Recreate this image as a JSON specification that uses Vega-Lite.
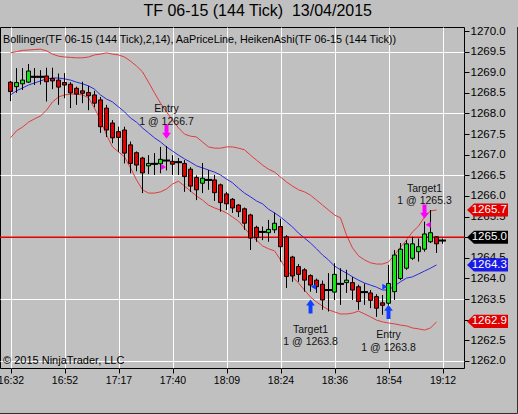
{
 "$schema": "https://vega.github.io/schema/vega-lite/v6.json",
 "width": 464, "height": 341,
 "autosize": {"type": "none"},
 "padding": {"left": 0, "top": 27, "right": 54, "bottom": 46},
 "background": "#c0c0c0",
 "config": {
  "font": "Liberation Sans",
  "view": {"stroke": "#000000", "strokeWidth": 1, "fill": "#c0c0c0"},
  "axisX": {"domain": false, "tickColor": "#000000", "tickSize": 5, "labelFontSize": 10.5, "labelColor": "#000000", "labelPadding": 2, "labelFlush": false, "labelOverlap": false, "grid": true, "gridColor": "#ffffff", "gridWidth": 1},
  "axisY": {"domain": false, "tickColor": "#000000", "tickSize": 5, "labelFontSize": 11.5, "labelColor": "#000000", "labelPadding": 1, "labelFlush": false, "labelOverlap": false, "grid": true, "gridColor": "#ffffff", "gridWidth": 1}
 },
 "title": {"text": "TF 06-15 (144 Tick) \u00a013/04/2015", "fontSize": 16, "fontWeight": "normal", "color": "#000000", "anchor": "middle", "frame": "bounds", "offset": 6},
 "datasets": {
  "bars": [
   {"i":0,"o":1268.76,"h":1268.79,"l":1268.30,"c":1268.53,"u":1269.47,"m":1268.45,"d":1267.41},
   {"i":1,"o":1268.65,"h":1269.10,"l":1268.50,"c":1268.75,"u":1269.50,"m":1268.55,"d":1267.58},
   {"i":2,"o":1268.72,"h":1269.10,"l":1268.57,"c":1268.81,"u":1269.53,"m":1268.62,"d":1267.67},
   {"i":3,"o":1268.76,"h":1269.20,"l":1268.74,"c":1269.03,"u":1269.54,"m":1268.69,"d":1267.79},
   {"i":4,"o":1268.89,"h":1269.10,"l":1268.69,"c":1268.89,"u":1269.55,"m":1268.74,"d":1267.87},
   {"i":5,"o":1268.89,"h":1269.05,"l":1268.70,"c":1268.89,"u":1269.56,"m":1268.79,"d":1267.94},
   {"i":6,"o":1268.91,"h":1269.11,"l":1268.29,"c":1268.77,"u":1269.52,"m":1268.84,"d":1268.08},
   {"i":7,"o":1268.85,"h":1269.11,"l":1268.59,"c":1268.79,"u":1269.44,"m":1268.86,"d":1268.28},
   {"i":8,"o":1268.81,"h":1268.97,"l":1268.21,"c":1268.64,"u":1269.39,"m":1268.86,"d":1268.40},
   {"i":9,"o":1268.75,"h":1268.98,"l":1268.37,"c":1268.69,"u":1269.37,"m":1268.84,"d":1268.45},
   {"i":10,"o":1268.71,"h":1268.76,"l":1268.13,"c":1268.50,"u":1269.36,"m":1268.81,"d":1268.47},
   {"i":11,"o":1268.61,"h":1268.65,"l":1268.21,"c":1268.47,"u":1269.35,"m":1268.76,"d":1268.47},
   {"i":12,"o":1268.55,"h":1268.77,"l":1268.25,"c":1268.49,"u":1269.35,"m":1268.72,"d":1268.45},
   {"i":13,"o":1268.51,"h":1268.67,"l":1268.08,"c":1268.43,"u":1269.37,"m":1268.67,"d":1268.38},
   {"i":14,"o":1268.45,"h":1268.55,"l":1268.15,"c":1268.25,"u":1269.42,"m":1268.59,"d":1268.13},
   {"i":15,"o":1268.33,"h":1268.40,"l":1267.53,"c":1267.68,"u":1269.44,"m":1268.45,"d":1267.84},
   {"i":16,"o":1268.13,"h":1268.21,"l":1267.43,"c":1267.60,"u":1269.47,"m":1268.35,"d":1267.48},
   {"i":17,"o":1267.77,"h":1267.84,"l":1267.28,"c":1267.41,"u":1269.44,"m":1268.28,"d":1267.19},
   {"i":18,"o":1267.56,"h":1267.68,"l":1267.07,"c":1267.42,"u":1269.42,"m":1268.16,"d":1267.07},
   {"i":19,"o":1267.60,"h":1267.68,"l":1266.79,"c":1267.04,"u":1269.37,"m":1268.04,"d":1266.95},
   {"i":20,"o":1267.24,"h":1267.32,"l":1266.55,"c":1266.79,"u":1269.27,"m":1267.89,"d":1266.68},
   {"i":21,"o":1267.05,"h":1267.08,"l":1266.60,"c":1266.75,"u":1269.15,"m":1267.79,"d":1266.39},
   {"i":22,"o":1266.92,"h":1266.95,"l":1266.07,"c":1266.56,"u":1269.01,"m":1267.65,"d":1266.15},
   {"i":23,"o":1266.73,"h":1266.99,"l":1266.53,"c":1266.79,"u":1268.76,"m":1267.53,"d":1266.07},
   {"i":24,"o":1266.78,"h":1267.04,"l":1266.51,"c":1266.78,"u":1268.50,"m":1267.41,"d":1266.07},
   {"i":25,"o":1266.78,"h":1267.19,"l":1266.55,"c":1266.89,"u":1268.25,"m":1267.31,"d":1266.10},
   {"i":26,"o":1266.86,"h":1267.21,"l":1266.62,"c":1266.86,"u":1268.04,"m":1267.19,"d":1266.17},
   {"i":27,"o":1266.84,"h":1266.99,"l":1266.51,"c":1266.77,"u":1267.84,"m":1267.09,"d":1266.29},
   {"i":28,"o":1266.82,"h":1266.92,"l":1266.51,"c":1266.82,"u":1267.65,"m":1266.99,"d":1266.36},
   {"i":29,"o":1266.79,"h":1266.87,"l":1266.10,"c":1266.47,"u":1267.50,"m":1266.90,"d":1266.24},
   {"i":30,"o":1266.65,"h":1266.70,"l":1266.10,"c":1266.24,"u":1267.45,"m":1266.82,"d":1266.12},
   {"i":31,"o":1266.45,"h":1266.50,"l":1265.90,"c":1266.15,"u":1267.43,"m":1266.73,"d":1266.00},
   {"i":32,"o":1266.31,"h":1266.80,"l":1266.07,"c":1266.43,"u":1267.31,"m":1266.68,"d":1265.90},
   {"i":33,"o":1266.39,"h":1266.63,"l":1266.15,"c":1266.39,"u":1267.19,"m":1266.63,"d":1265.78},
   {"i":34,"o":1266.39,"h":1266.51,"l":1265.88,"c":1266.08,"u":1267.16,"m":1266.58,"d":1265.71},
   {"i":35,"o":1266.27,"h":1266.30,"l":1265.62,"c":1265.84,"u":1267.16,"m":1266.51,"d":1265.66},
   {"i":36,"o":1266.05,"h":1266.10,"l":1265.66,"c":1265.81,"u":1267.19,"m":1266.41,"d":1265.59},
   {"i":37,"o":1265.92,"h":1265.95,"l":1265.59,"c":1265.71,"u":1267.19,"m":1266.32,"d":1265.49},
   {"i":38,"o":1265.78,"h":1265.80,"l":1265.49,"c":1265.62,"u":1267.16,"m":1266.19,"d":1265.39},
   {"i":39,"o":1265.69,"h":1265.72,"l":1265.18,"c":1265.34,"u":1267.12,"m":1266.07,"d":1265.22},
   {"i":40,"o":1265.54,"h":1265.57,"l":1264.69,"c":1264.98,"u":1266.99,"m":1265.98,"d":1265.05},
   {"i":41,"o":1265.24,"h":1265.28,"l":1264.89,"c":1264.99,"u":1266.87,"m":1265.88,"d":1264.93},
   {"i":42,"o":1265.13,"h":1265.26,"l":1264.93,"c":1265.13,"u":1266.75,"m":1265.81,"d":1264.79},
   {"i":43,"o":1265.11,"h":1265.42,"l":1264.89,"c":1265.19,"u":1266.65,"m":1265.68,"d":1264.72},
   {"i":44,"o":1265.18,"h":1265.60,"l":1265.10,"c":1265.34,"u":1266.58,"m":1265.59,"d":1264.67},
   {"i":45,"o":1265.26,"h":1265.45,"l":1264.41,"c":1264.77,"u":1266.46,"m":1265.49,"d":1264.45},
   {"i":46,"o":1265.01,"h":1265.05,"l":1263.77,"c":1264.05,"u":1266.34,"m":1265.37,"d":1264.21},
   {"i":47,"o":1264.52,"h":1264.55,"l":1263.92,"c":1264.06,"u":1266.24,"m":1265.25,"d":1264.04},
   {"i":48,"o":1264.29,"h":1264.35,"l":1263.92,"c":1264.10,"u":1266.15,"m":1265.10,"d":1263.89},
   {"i":49,"o":1264.21,"h":1264.25,"l":1263.68,"c":1263.96,"u":1266.10,"m":1264.98,"d":1263.72},
   {"i":50,"o":1264.07,"h":1264.10,"l":1263.68,"c":1263.84,"u":1266.02,"m":1264.86,"d":1263.55},
   {"i":51,"o":1263.96,"h":1264.00,"l":1263.65,"c":1263.80,"u":1265.90,"m":1264.72,"d":1263.43},
   {"i":52,"o":1263.86,"h":1263.95,"l":1263.24,"c":1263.48,"u":1265.78,"m":1264.57,"d":1263.33},
   {"i":53,"o":1263.72,"h":1264.13,"l":1263.20,"c":1263.72,"u":1265.66,"m":1264.45,"d":1263.24},
   {"i":54,"o":1263.67,"h":1264.37,"l":1263.48,"c":1264.10,"u":1265.54,"m":1264.30,"d":1263.19},
   {"i":55,"o":1263.87,"h":1264.25,"l":1263.36,"c":1263.87,"u":1265.47,"m":1264.21,"d":1263.14},
   {"i":56,"o":1263.90,"h":1264.21,"l":1263.65,"c":1263.96,"u":1265.05,"m":1264.13,"d":1263.14},
   {"i":57,"o":1263.90,"h":1264.04,"l":1263.48,"c":1263.72,"u":1264.74,"m":1264.04,"d":1263.16},
   {"i":58,"o":1263.80,"h":1263.85,"l":1263.24,"c":1263.44,"u":1264.55,"m":1263.96,"d":1263.21},
   {"i":59,"o":1263.67,"h":1263.88,"l":1263.36,"c":1263.67,"u":1264.45,"m":1263.89,"d":1263.14},
   {"i":60,"o":1263.65,"h":1263.72,"l":1263.28,"c":1263.47,"u":1264.38,"m":1263.84,"d":1263.07},
   {"i":61,"o":1263.56,"h":1263.62,"l":1263.07,"c":1263.28,"u":1264.35,"m":1263.79,"d":1262.99},
   {"i":62,"o":1263.41,"h":1263.60,"l":1263.12,"c":1263.35,"u":1264.35,"m":1263.72,"d":1262.95},
   {"i":63,"o":1263.40,"h":1264.33,"l":1263.24,"c":1263.88,"u":1264.40,"m":1263.72,"d":1262.92},
   {"i":64,"o":1263.68,"h":1264.69,"l":1263.48,"c":1264.57,"u":1264.57,"m":1263.82,"d":1262.90},
   {"i":65,"o":1264.00,"h":1264.86,"l":1263.96,"c":1264.71,"u":1264.76,"m":1263.92,"d":1262.87},
   {"i":66,"o":1264.25,"h":1264.93,"l":1264.21,"c":1264.84,"u":1264.93,"m":1264.01,"d":1262.85},
   {"i":67,"o":1264.49,"h":1265.01,"l":1264.45,"c":1264.84,"u":1265.13,"m":1264.04,"d":1262.80},
   {"i":68,"o":1264.65,"h":1264.97,"l":1264.41,"c":1264.77,"u":1265.27,"m":1264.11,"d":1262.78},
   {"i":69,"o":1264.71,"h":1265.38,"l":1264.65,"c":1265.08,"u":1265.49,"m":1264.18,"d":1262.75},
   {"i":70,"o":1264.89,"h":1265.66,"l":1264.86,"c":1265.11,"u":1265.64,"m":1264.25,"d":1262.80},
   {"i":71,"o":1265.01,"h":1265.03,"l":1264.62,"c":1264.84,"u":1265.66,"m":1264.33,"d":1262.95},
   {"i":72,"o":1264.92,"h":1264.97,"l":1264.84,"c":1264.92}
  ],
  "trades": [
   {"i":26,"side":"sell","ap":1267.56,"lp":1268.10,"label":"Entry\n1 @ 1266.7","ei":25.5,"ep":1266.7,"et":"entry"},
   {"i":50,"side":"buy","ap":1263.32,"lp":1262.76,"label":"Target1\n1 @ 1263.8","ei":50.5,"ep":1263.8,"et":"exit"},
   {"i":63,"side":"buy","ap":1263.19,"lp":1262.62,"label":"Entry\n1 @ 1263.8","ei":62.4,"ep":1263.8,"et":"entry"},
   {"i":69,"side":"sell","ap":1265.62,"lp":1266.18,"label":"Target1\n1 @ 1265.3","ei":69.6,"ep":1265.3,"et":"exit"}
  ],
  "tags": [
   {"p":1265.66,"t":"1265.7","k":"upper"},
   {"p":1265.0,"t":"1265.0","k":"price"},
   {"p":1264.33,"t":"1264.3","k":"mid"},
   {"p":1262.96,"t":"1262.9","k":"lower"}
  ]
 },
 "layer": [
  {"data":{"name":"bars"},"mark":{"type":"line","color":"#e23c3c","strokeWidth":1},
   "encoding":{"x":{"field":"i","type":"quantitative","scale":{"domain":[-1.75,75.58],"nice":false,"zero":false,"padding":0},"axis":{"title":null,"values":[0,9,18,27,36,45,54,63,72],"labelExpr":"['16:32','16:52','17:17','17:40','18:09','18:24','18:36','18:54','19:12'][round(datum.value/9)]"}},
               "y":{"field":"u","type":"quantitative","scale":{"domain":[1261.83,1270.097],"nice":false,"zero":false,"padding":0},"axis":{"title":null,"orient":"right","values":[1262,1262.5,1263,1263.5,1264,1264.5,1265,1265.5,1266,1266.5,1267,1267.5,1268,1268.5,1269,1269.5,1270],"format":".1f","gridOpacity":{"condition":{"test":"(datum.value-1262)%1.5===0","value":1},"value":0},"labelOpacity":{"condition":{"test":"datum.value===1265||datum.value===1263","value":0},"value":1}}}}},
  {"data":{"name":"bars"},"mark":{"type":"line","color":"#e23c3c","strokeWidth":1},
   "encoding":{"x":{"field":"i","type":"quantitative","scale":{"domain":[-1.75,75.58],"nice":false,"zero":false,"padding":0},"axis":{"title":null,"values":[0,9,18,27,36,45,54,63,72],"labelExpr":"['16:32','16:52','17:17','17:40','18:09','18:24','18:36','18:54','19:12'][round(datum.value/9)]"}},
               "y":{"field":"d","type":"quantitative","scale":{"domain":[1261.83,1270.097],"nice":false,"zero":false,"padding":0},"axis":{"title":null,"orient":"right","values":[1262,1262.5,1263,1263.5,1264,1264.5,1265,1265.5,1266,1266.5,1267,1267.5,1268,1268.5,1269,1269.5,1270],"format":".1f","gridOpacity":{"condition":{"test":"(datum.value-1262)%1.5===0","value":1},"value":0},"labelOpacity":{"condition":{"test":"datum.value===1265||datum.value===1263","value":0},"value":1}}}}},
  {"data":{"name":"bars"},"mark":{"type":"line","color":"#2a2ae0","strokeWidth":1},
   "encoding":{"x":{"field":"i","type":"quantitative","scale":{"domain":[-1.75,75.58],"nice":false,"zero":false,"padding":0},"axis":{"title":null,"values":[0,9,18,27,36,45,54,63,72],"labelExpr":"['16:32','16:52','17:17','17:40','18:09','18:24','18:36','18:54','19:12'][round(datum.value/9)]"}},
               "y":{"field":"m","type":"quantitative","scale":{"domain":[1261.83,1270.097],"nice":false,"zero":false,"padding":0},"axis":{"title":null,"orient":"right","values":[1262,1262.5,1263,1263.5,1264,1264.5,1265,1265.5,1266,1266.5,1267,1267.5,1268,1268.5,1269,1269.5,1270],"format":".1f","gridOpacity":{"condition":{"test":"(datum.value-1262)%1.5===0","value":1},"value":0},"labelOpacity":{"condition":{"test":"datum.value===1265||datum.value===1263","value":0},"value":1}}}}},
  {"data":{"name":"tags"},"transform":[{"filter":"datum.k=='price'"}],"mark":{"type":"rule","color":"#e60000","strokeWidth":1.5},
   "encoding":{"y":{"field":"p","type":"quantitative","scale":{"domain":[1261.83,1270.097],"nice":false,"zero":false,"padding":0},"axis":{"title":null,"orient":"right","values":[1262,1262.5,1263,1263.5,1264,1264.5,1265,1265.5,1266,1266.5,1267,1267.5,1268,1268.5,1269,1269.5,1270],"format":".1f","gridOpacity":{"condition":{"test":"(datum.value-1262)%1.5===0","value":1},"value":0},"labelOpacity":{"condition":{"test":"datum.value===1265||datum.value===1263","value":0},"value":1}}}}},
  {"data":{"name":"bars"},"mark":{"type":"rule","color":"#000000","strokeWidth":1},
   "encoding":{"x":{"field":"i","type":"quantitative","scale":{"domain":[-1.75,75.58],"nice":false,"zero":false,"padding":0},"axis":{"title":null,"values":[0,9,18,27,36,45,54,63,72],"labelExpr":"['16:32','16:52','17:17','17:40','18:09','18:24','18:36','18:54','19:12'][round(datum.value/9)]"}},
               "y":{"field":"l","type":"quantitative","scale":{"domain":[1261.83,1270.097],"nice":false,"zero":false,"padding":0},"axis":{"title":null,"orient":"right","values":[1262,1262.5,1263,1263.5,1264,1264.5,1265,1265.5,1266,1266.5,1267,1267.5,1268,1268.5,1269,1269.5,1270],"format":".1f","gridOpacity":{"condition":{"test":"(datum.value-1262)%1.5===0","value":1},"value":0},"labelOpacity":{"condition":{"test":"datum.value===1265||datum.value===1263","value":0},"value":1}}},
               "y2":{"field":"h"}}},
  {"data":{"name":"bars"},"mark":{"type":"bar","size":4,"stroke":"#000000","strokeWidth":1},
   "encoding":{"x":{"field":"i","type":"quantitative","scale":{"domain":[-1.75,75.58],"nice":false,"zero":false,"padding":0},"axis":{"title":null,"values":[0,9,18,27,36,45,54,63,72],"labelExpr":"['16:32','16:52','17:17','17:40','18:09','18:24','18:36','18:54','19:12'][round(datum.value/9)]"}},
               "y":{"field":"o","type":"quantitative","scale":{"domain":[1261.83,1270.097],"nice":false,"zero":false,"padding":0},"axis":{"title":null,"orient":"right","values":[1262,1262.5,1263,1263.5,1264,1264.5,1265,1265.5,1266,1266.5,1267,1267.5,1268,1268.5,1269,1269.5,1270],"format":".1f","gridOpacity":{"condition":{"test":"(datum.value-1262)%1.5===0","value":1},"value":0},"labelOpacity":{"condition":{"test":"datum.value===1265||datum.value===1263","value":0},"value":1}}},
               "y2":{"field":"c"},
               "fill":{"condition":{"test":"datum.c > datum.o","value":"#14e614"},"value":"#e00000"}}},
  {"data":{"name":"bars"},"transform":[{"filter":"datum.o === datum.c"}],"mark":{"type":"tick","orient":"horizontal","size":7,"thickness":2,"color":"#000000","opacity":1},
   "encoding":{"x":{"field":"i","type":"quantitative","scale":{"domain":[-1.75,75.58],"nice":false,"zero":false,"padding":0},"axis":{"title":null,"values":[0,9,18,27,36,45,54,63,72],"labelExpr":"['16:32','16:52','17:17','17:40','18:09','18:24','18:36','18:54','19:12'][round(datum.value/9)]"}},
               "y":{"field":"o","type":"quantitative","scale":{"domain":[1261.83,1270.097],"nice":false,"zero":false,"padding":0},"axis":{"title":null,"orient":"right","values":[1262,1262.5,1263,1263.5,1264,1264.5,1265,1265.5,1266,1266.5,1267,1267.5,1268,1268.5,1269,1269.5,1270],"format":".1f","gridOpacity":{"condition":{"test":"(datum.value-1262)%1.5===0","value":1},"value":0},"labelOpacity":{"condition":{"test":"datum.value===1265||datum.value===1263","value":0},"value":1}}}}},
  {"data":{"name":"trades"},"mark":{"type":"point","filled":true,"size":36,"opacity":1},
   "encoding":{"x":{"field":"ei","type":"quantitative","scale":{"domain":[-1.75,75.58],"nice":false,"zero":false,"padding":0},"axis":{"title":null,"values":[0,9,18,27,36,45,54,63,72],"labelExpr":"['16:32','16:52','17:17','17:40','18:09','18:24','18:36','18:54','19:12'][round(datum.value/9)]"}},
               "y":{"field":"ep","type":"quantitative","scale":{"domain":[1261.83,1270.097],"nice":false,"zero":false,"padding":0},"axis":{"title":null,"orient":"right","values":[1262,1262.5,1263,1263.5,1264,1264.5,1265,1265.5,1266,1266.5,1267,1267.5,1268,1268.5,1269,1269.5,1270],"format":".1f","gridOpacity":{"condition":{"test":"(datum.value-1262)%1.5===0","value":1},"value":0},"labelOpacity":{"condition":{"test":"datum.value===1265||datum.value===1263","value":0},"value":1}}},
               "shape":{"condition":{"test":"datum.et=='entry'","value":"triangle-right"},"value":"triangle-left"},
               "color":{"condition":{"test":"datum.side=='sell'","value":"#ff00ff"},"value":"#1040ff"}}},
  {"data":{"name":"trades"},"mark":{"type":"point","filled":true,"size":200,"opacity":1},
   "encoding":{"x":{"field":"i","type":"quantitative","scale":{"domain":[-1.75,75.58],"nice":false,"zero":false,"padding":0},"axis":{"title":null,"values":[0,9,18,27,36,45,54,63,72],"labelExpr":"['16:32','16:52','17:17','17:40','18:09','18:24','18:36','18:54','19:12'][round(datum.value/9)]"}},
               "y":{"field":"ap","type":"quantitative","scale":{"domain":[1261.83,1270.097],"nice":false,"zero":false,"padding":0},"axis":{"title":null,"orient":"right","values":[1262,1262.5,1263,1263.5,1264,1264.5,1265,1265.5,1266,1266.5,1267,1267.5,1268,1268.5,1269,1269.5,1270],"format":".1f","gridOpacity":{"condition":{"test":"(datum.value-1262)%1.5===0","value":1},"value":0},"labelOpacity":{"condition":{"test":"datum.value===1265||datum.value===1263","value":0},"value":1}}},
               "shape":{"condition":{"test":"datum.side=='sell'","value":"M-0.28,-1 L0.28,-1 L0.28,0.15 L0.62,0.15 L0,1 L-0.62,0.15 L-0.28,0.15 Z"},"value":"M-0.28,1 L0.28,1 L0.28,-0.15 L0.62,-0.15 L0,-1 L-0.62,-0.15 L-0.28,-0.15 Z"},
               "color":{"condition":{"test":"datum.side=='sell'","value":"#ff00ff"},"value":"#1040ff"}}},
  {"data":{"name":"trades"},"mark":{"type":"text","lineBreak":"\n","fontSize":10.5,"lineHeight":12.5,"color":"#111111","align":"center","baseline":"middle"},
   "encoding":{"x":{"field":"i","type":"quantitative","scale":{"domain":[-1.75,75.58],"nice":false,"zero":false,"padding":0},"axis":{"title":null,"values":[0,9,18,27,36,45,54,63,72],"labelExpr":"['16:32','16:52','17:17','17:40','18:09','18:24','18:36','18:54','19:12'][round(datum.value/9)]"}},
               "y":{"field":"lp","type":"quantitative","scale":{"domain":[1261.83,1270.097],"nice":false,"zero":false,"padding":0},"axis":{"title":null,"orient":"right","values":[1262,1262.5,1263,1263.5,1264,1264.5,1265,1265.5,1266,1266.5,1267,1267.5,1268,1268.5,1269,1269.5,1270],"format":".1f","gridOpacity":{"condition":{"test":"(datum.value-1262)%1.5===0","value":1},"value":0},"labelOpacity":{"condition":{"test":"datum.value===1265||datum.value===1263","value":0},"value":1}}},
               "text":{"field":"label","type":"nominal"}}},
  {"data":{"name":"tags"},"mark":{"type":"point","filled":true,"size":1681,"opacity":1,"strokeWidth":0,"clip":false,
                                  "shape":"M-1,0 L-0.66,-0.32 L1,-0.32 L1,0.32 L-0.66,0.32 Z"},
   "encoding":{"x":{"datum":79.5,"type":"quantitative","scale":{"domain":[-1.75,75.58],"nice":false,"zero":false,"padding":0},"axis":{"title":null,"values":[0,9,18,27,36,45,54,63,72],"labelExpr":"['16:32','16:52','17:17','17:40','18:09','18:24','18:36','18:54','19:12'][round(datum.value/9)]"}},
               "y":{"field":"p","type":"quantitative","scale":{"domain":[1261.83,1270.097],"nice":false,"zero":false,"padding":0},"axis":{"title":null,"orient":"right","values":[1262,1262.5,1263,1263.5,1264,1264.5,1265,1265.5,1266,1266.5,1267,1267.5,1268,1268.5,1269,1269.5,1270],"format":".1f","gridOpacity":{"condition":{"test":"(datum.value-1262)%1.5===0","value":1},"value":0},"labelOpacity":{"condition":{"test":"datum.value===1265||datum.value===1263","value":0},"value":1}}},
               "fill":{"condition":[{"test":"datum.k=='price'","value":"#000000"},{"test":"datum.k=='mid'","value":"#1a1ae6"}],"value":"#e00000"}}},
  {"data":{"name":"tags"},"mark":{"type":"text","fontSize":11.5,"color":"#ffffff","align":"center","baseline":"middle","clip":false},
   "encoding":{"x":{"datum":79.8,"type":"quantitative","scale":{"domain":[-1.75,75.58],"nice":false,"zero":false,"padding":0},"axis":{"title":null,"values":[0,9,18,27,36,45,54,63,72],"labelExpr":"['16:32','16:52','17:17','17:40','18:09','18:24','18:36','18:54','19:12'][round(datum.value/9)]"}},
               "y":{"field":"p","type":"quantitative","scale":{"domain":[1261.83,1270.097],"nice":false,"zero":false,"padding":0},"axis":{"title":null,"orient":"right","values":[1262,1262.5,1263,1263.5,1264,1264.5,1265,1265.5,1266,1266.5,1267,1267.5,1268,1268.5,1269,1269.5,1270],"format":".1f","gridOpacity":{"condition":{"test":"(datum.value-1262)%1.5===0","value":1},"value":0},"labelOpacity":{"condition":{"test":"datum.value===1265||datum.value===1263","value":0},"value":1}}},
               "text":{"field":"t","type":"nominal"}}},
  {"data":{"values":[{}]},"mark":{"type":"text","fontSize":10.8,"color":"#000000","align":"left","baseline":"middle",
                                  "text":"Bollinger(TF 06-15 (144 Tick),2,14), AaPriceLine, HeikenAshi(TF 06-15 (144 Tick))"},
   "encoding":{"x":{"datum":-1.25,"type":"quantitative","scale":{"domain":[-1.75,75.58],"nice":false,"zero":false,"padding":0},"axis":{"title":null,"values":[0,9,18,27,36,45,54,63,72],"labelExpr":"['16:32','16:52','17:17','17:40','18:09','18:24','18:36','18:54','19:12'][round(datum.value/9)]"}},
               "y":{"datum":1269.79,"type":"quantitative","scale":{"domain":[1261.83,1270.097],"nice":false,"zero":false,"padding":0},"axis":{"title":null,"orient":"right","values":[1262,1262.5,1263,1263.5,1264,1264.5,1265,1265.5,1266,1266.5,1267,1267.5,1268,1268.5,1269,1269.5,1270],"format":".1f","gridOpacity":{"condition":{"test":"(datum.value-1262)%1.5===0","value":1},"value":0},"labelOpacity":{"condition":{"test":"datum.value===1265||datum.value===1263","value":0},"value":1}}}}},
  {"data":{"values":[{}]},"mark":{"type":"text","fontSize":11,"color":"#000000","align":"left","baseline":"middle",
                                  "text":"© 2015 NinjaTrader, LLC"},
   "encoding":{"x":{"datum":-1.25,"type":"quantitative","scale":{"domain":[-1.75,75.58],"nice":false,"zero":false,"padding":0},"axis":{"title":null,"values":[0,9,18,27,36,45,54,63,72],"labelExpr":"['16:32','16:52','17:17','17:40','18:09','18:24','18:36','18:54','19:12'][round(datum.value/9)]"}},
               "y":{"datum":1261.99,"type":"quantitative","scale":{"domain":[1261.83,1270.097],"nice":false,"zero":false,"padding":0},"axis":{"title":null,"orient":"right","values":[1262,1262.5,1263,1263.5,1264,1264.5,1265,1265.5,1266,1266.5,1267,1267.5,1268,1268.5,1269,1269.5,1270],"format":".1f","gridOpacity":{"condition":{"test":"(datum.value-1262)%1.5===0","value":1},"value":0},"labelOpacity":{"condition":{"test":"datum.value===1265||datum.value===1263","value":0},"value":1}}}}},
  {"data":{"values":[{}]},"mark":{"type":"rule","color":"#303030","strokeWidth":1,"clip":false},
   "encoding":{"x":{"datum":-1.75,"type":"quantitative","scale":{"domain":[-1.75,75.58],"nice":false,"zero":false,"padding":0},"axis":{"title":null,"values":[0,9,18,27,36,45,54,63,72],"labelExpr":"['16:32','16:52','17:17','17:40','18:09','18:24','18:36','18:54','19:12'][round(datum.value/9)]"}},
               "x2":{"datum":84.5},
               "y":{"datum":1260.7273,"type":"quantitative","scale":{"domain":[1261.83,1270.097],"nice":false,"zero":false,"padding":0},"axis":{"title":null,"orient":"right","values":[1262,1262.5,1263,1263.5,1264,1264.5,1265,1265.5,1266,1266.5,1267,1267.5,1268,1268.5,1269,1269.5,1270],"format":".1f","gridOpacity":{"condition":{"test":"(datum.value-1262)%1.5===0","value":1},"value":0},"labelOpacity":{"condition":{"test":"datum.value===1265||datum.value===1263","value":0},"value":1}}}}},
  {"data":{"values":[{}]},"mark":{"type":"rule","color":"#303030","strokeWidth":1,"clip":false},
   "encoding":{"x":{"datum":84.5,"type":"quantitative","scale":{"domain":[-1.75,75.58],"nice":false,"zero":false,"padding":0},"axis":{"title":null,"values":[0,9,18,27,36,45,54,63,72],"labelExpr":"['16:32','16:52','17:17','17:40','18:09','18:24','18:36','18:54','19:12'][round(datum.value/9)]"}},
               "y":{"datum":1270.097,"type":"quantitative","scale":{"domain":[1261.83,1270.097],"nice":false,"zero":false,"padding":0},"axis":{"title":null,"orient":"right","values":[1262,1262.5,1263,1263.5,1264,1264.5,1265,1265.5,1266,1266.5,1267,1267.5,1268,1268.5,1269,1269.5,1270],"format":".1f","gridOpacity":{"condition":{"test":"(datum.value-1262)%1.5===0","value":1},"value":0},"labelOpacity":{"condition":{"test":"datum.value===1265||datum.value===1263","value":0},"value":1}}},
               "y2":{"datum":1260.7273}}}
 ]
}
